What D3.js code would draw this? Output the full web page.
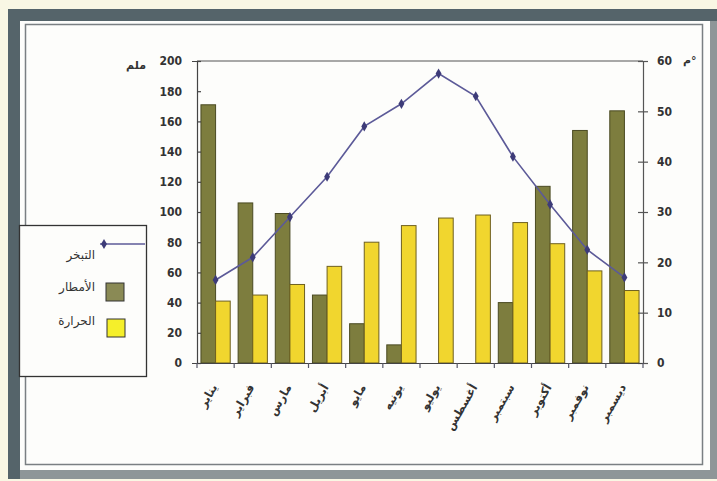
<!DOCTYPE html>
<html>
<head>
<meta charset="utf-8">
<script src="https://cdn.jsdelivr.net/npm/d3@7"></script>
<style>
  body { margin: 0; background: #f9f7e4; }
  svg { display: block; }
  .tick text { font-family: "DejaVu Sans Condensed", "DejaVu Sans", sans-serif; font-weight: bold; font-size: 12px; fill: #333; }
  .ar { font-family: "DejaVu Sans", sans-serif; fill: #333; }
</style>
</head>
<body>
<svg id="chart"></svg>
<script>
// data
const months = ["يناير", "فبراير", "مارس", "أبريل", "مايو", "يونيه",
                "يوليو", "أغسطس", "سبتمبر", "أكتوبر", "نوفمبر", "ديسمبر"];
const rain = [171, 106, 99, 45, 26, 12, 0, 0, 40, 117, 154, 167];        // الأمطار (ملم)
const heat = [41, 45, 52, 64, 80, 91, 96, 98, 93, 79, 61, 48];           // الحرارة (primary axis)
const evap = [16.5, 21, 29, 37, 47, 51.5, 57.5, 53, 41, 31.5, 22.5, 17]; // التبخر (secondary axis)
const leftTicks = [0, 20, 40, 60, 80, 100, 120, 140, 160, 180, 200];
const rightTicks = [0, 10, 20, 30, 40, 50, 60];

const width = 717, height = 481;
const marginLeft = 197, marginRight = 74, marginTop = 61, marginBottom = 118;

const svg = d3.select("#chart")
    .attr("width", width)
    .attr("height", height)
    .attr("viewBox", [0, 0, width, height]);

// frame: dark band top/left, lighter grey right/bottom
svg.append("rect").attr("x", 8).attr("y", 9).attr("width", 709).attr("height", 470).attr("fill", "#8e9698");
svg.append("rect").attr("x", 8).attr("y", 9).attr("width", 709).attr("height", 12).attr("fill", "#55646a");
svg.append("rect").attr("x", 8).attr("y", 9).attr("width", 12).attr("height", 470).attr("fill", "#55646a");
svg.append("rect").attr("x", 20).attr("y", 21).attr("width", 690).attr("height", 449).attr("fill", "#fdfdfb");
svg.append("rect").attr("x", 25.5).attr("y", 24.5).attr("width", 677).attr("height", 440)
    .attr("fill", "none").attr("stroke", "#7a7f82").attr("stroke-width", 1.5);

// scales
const x = d3.scaleBand(months, [marginLeft, width - marginRight]);
const x2 = d3.scaleBand(["rain", "heat"], [0, x.bandwidth()]).paddingOuter(0.27);
const y = d3.scaleLinear([0, 200], [height - marginBottom, marginTop]);
const y2 = d3.scaleLinear([0, 60], [height - marginBottom, marginTop]);

// plot top border
svg.append("line")
    .attr("x1", marginLeft).attr("x2", width - marginRight)
    .attr("y1", marginTop).attr("y2", marginTop)
    .attr("stroke", "#555").attr("stroke-width", 1.2);

// bars
const groups = svg.append("g").selectAll("g")
    .data(months)
    .join("g")
    .attr("transform", d => `translate(${x(d)},0)`);

groups.append("rect")
    .attr("x", x2("rain"))
    .attr("y", (d, i) => y(rain[i]))
    .attr("width", x2.bandwidth())
    .attr("height", (d, i) => y(0) - y(rain[i]))
    .attr("fill", "#7d7d3e")
    .attr("stroke", "#4a4a22")
    .attr("stroke-width", 1)
    .attr("display", (d, i) => rain[i] > 0 ? null : "none");

groups.append("rect")
    .attr("x", x2("heat"))
    .attr("y", (d, i) => y(heat[i]))
    .attr("width", x2.bandwidth())
    .attr("height", (d, i) => y(0) - y(heat[i]))
    .attr("fill", "#f1d62e")
    .attr("stroke", "#6e6020")
    .attr("stroke-width", 1);

// line
const line = d3.line()
    .x((d, i) => x(months[i]) + x.bandwidth() / 2)
    .y(d => y2(d));

svg.append("path")
    .datum(evap)
    .attr("fill", "none")
    .attr("stroke", "#5c5a98")
    .attr("stroke-width", 1.6)
    .attr("d", line);

svg.append("g").selectAll("path")
    .data(evap)
    .join("path")
    .attr("transform", (d, i) => `translate(${x(months[i]) + x.bandwidth() / 2},${y2(d)})`)
    .attr("d", d3.symbol(d3.symbolDiamond, 30))
    .attr("fill", "#3d3b78");

// axes
svg.append("g")
    .attr("transform", `translate(${marginLeft},0)`)
    .call(d3.axisLeft(y).tickValues(leftTicks).tickSize(5).tickPadding(10))
    .call(g => g.selectAll(".tick line").attr("x2", 4))
    .call(g => g.selectAll("line, path").attr("stroke", "#444").attr("stroke-width", 1.2));

svg.append("g")
    .attr("transform", `translate(${width - marginRight},0)`)
    .call(d3.axisRight(y2).tickValues(rightTicks).tickSize(5).tickPadding(9))
    .call(g => g.selectAll(".tick line").attr("x1", -5))
    .call(g => g.selectAll("line, path").attr("stroke", "#555").attr("stroke-width", 1.2));

svg.append("g")
    .attr("transform", `translate(0,${height - marginBottom})`)
    .call(d3.axisBottom(x).tickValues([]).tickSizeOuter(0))
    .call(g => g.selectAll("path").attr("stroke", "#444").attr("stroke-width", 1.2))
    .call(g => g.append("g").selectAll("line")
        .data(d3.range(months.length + 1))
        .join("line")
        .attr("x1", i => marginLeft + i * x.step())
        .attr("x2", i => marginLeft + i * x.step())
        .attr("y1", 0).attr("y2", 5)
        .attr("stroke", "#556").attr("stroke-width", 1.2));

// month labels
svg.append("g").selectAll("text")
    .data(months)
    .join("text")
    .attr("class", "ar")
    .attr("font-size", 11.5)
    .attr("font-weight", "bold")
    .attr("text-anchor", "end")
    .attr("transform", d => `translate(${x(d) + x.bandwidth() / 2 + 2},${height - marginBottom + 24}) rotate(-60)`)
    .text(d => d);

// unit labels
svg.append("text").attr("class", "ar").attr("x", 146).attr("y", 69)
    .attr("text-anchor", "end").attr("font-size", 11).attr("font-weight", "bold").text("ملم");
svg.append("text").attr("class", "ar").attr("x", 683).attr("y", 64)
    .attr("font-size", 11).attr("font-weight", "bold").text("م°");

// legend
const legend = svg.append("g");
legend.append("rect").attr("x", 19.5).attr("y", 225.5).attr("width", 127).attr("height", 151)
    .attr("fill", "#fdfdfb").attr("stroke", "#333").attr("stroke-width", 1.3);
legend.append("line").attr("x1", 100).attr("x2", 145).attr("y1", 244).attr("y2", 244)
    .attr("stroke", "#5c5a98").attr("stroke-width", 1.6);
legend.append("path").attr("transform", "translate(104,244)")
    .attr("d", d3.symbol(d3.symbolDiamond, 30)).attr("fill", "#3d3b78");
legend.append("rect").attr("x", 106).attr("y", 283).attr("width", 18).attr("height", 18)
    .attr("fill", "#8a8a55").attr("stroke", "#333");
legend.append("rect").attr("x", 107).attr("y", 319).attr("width", 18).attr("height", 18)
    .attr("fill", "#f5ef2a").attr("stroke", "#333");

const legendLabels = ["التبخر", "الأمطار", "الحرارة"];
const legendY = [259, 291, 325];
legend.selectAll("text.lab")
    .data(legendLabels)
    .join("text")
    .attr("class", "ar lab")
    .attr("x", 95)
    .attr("y", (d, i) => legendY[i])
    .attr("text-anchor", "end")
    .attr("font-size", 12)
    .text(d => d);
</script>
</body>
</html>
